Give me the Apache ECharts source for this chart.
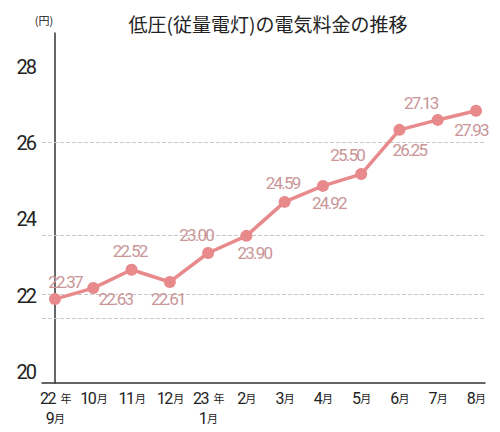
<!DOCTYPE html>
<html><head><meta charset="utf-8">
<script src="https://cdn.jsdelivr.net/npm/echarts@6/dist/echarts.min.js"></script>
<style>
html,body{margin:0;padding:0;background:#fff}
#c{width:500px;height:432px}
#c text[style*="lblval"]{letter-spacing:-1.8px}
#c text[style*="lblaxy"]{letter-spacing:-2px}
#c text[style*="lblaxx"]{letter-spacing:-1.5px}
</style>
</head><body><div id="c"></div>
<script>
// ---- data ----
const categories = ['22年\n9月','10月','11月','12月','23年\n1月','2月','3月','4月','5月','6月','7月','8月'];
// values as plotted against the y axis (read from point positions)
const plotValues = [21.91, 22.20, 22.68, 22.36, 23.12, 23.57, 24.46, 24.88, 25.19, 26.35, 26.61, 26.85];
// data labels printed in the picture
const labelTexts = ['22.37','22.63','22.52','22.61','23.00','23.90','24.59','24.92','25.50','26.25','27.13','27.93'];
const yTickLabels = [20, 22, 24, 26, 28];
const gridLineValues = [26.03, 23.59, 22.05, 21.42];

// ---- layout/style ----
const labelOffsets = [[10,-17],[22,11],[-2,-19],[-2,17],[-12,-18],[8,17],[-2,-19],[6,17],[-14,-19],[10,20],[-17,-17],[-5,19]];
const fVal = "Roboto, lblval, sans-serif";
const fAxY = "Roboto, lblaxy, sans-serif";
const fAxX = "Roboto, lblaxx, sans-serif";
const cjk = "'Noto Sans CJK JP', sans-serif";
const lineColor = '#e8898b';

const chart = echarts.init(document.getElementById('c'), null, {renderer:'svg'});
chart.setOption({
  animation: false,
  backgroundColor: '#fff',
  title: {
    text: '低圧(従量電灯)の電気料金の推移',
    left: 263, top: 9, textAlign: 'center',
    textStyle: {fontFamily: cjk, fontSize: 19, fontWeight: 'normal', color: '#222'}
  },
  grid: [
    {left: 42, right: 15, top: 33, bottom: 49},
    {left: 55, right: 24, top: 33, bottom: 49}
  ],
  xAxis: [
    {type: 'value', gridIndex: 0, min: -0.34, max: 11.235,
     axisLine: {show: true, lineStyle: {color: '#333', width: 1.5}},
     axisTick: {show: false}, axisLabel: {show: false}, splitLine: {show: false}},
    {type: 'category', gridIndex: 1, data: categories, boundaryGap: false,
     axisLine: {show: false}, axisTick: {show: false}, splitLine: {show: false},
     axisLabel: {
       margin: 5, interval: 0,
       formatter: function (v) {
         return v.split('\n').map(function (line) {
           return line.replace(/(\d+)/g, '{n|$1}').replace(/年/g, '{y|年}').replace(/月/g, '{s|月}');
         }).join('\n');
       },
       rich: {
         n: {fontFamily: fAxX, fontSize: 16, color: '#222', lineHeight: 20},
         y: {fontFamily: cjk, fontSize: 11, color: '#222', lineHeight: 20, padding: [0,0,0,4]},
         s: {fontFamily: cjk, fontSize: 11, color: '#222', lineHeight: 20}
       }
     }}
  ],
  yAxis: [
    {type: 'value', gridIndex: 0, min: 19.71, max: 28.89,
     name: '(円)', nameLocation: 'end', nameGap: 8,
     nameTextStyle: {fontFamily: cjk, fontSize: 11, color: '#222', align: 'center', padding: [0, 22, 0, 0]},
     axisLine: {show: true, lineStyle: {color: '#333', width: 1.5}},
     axisTick: {show: false}, splitLine: {show: false},
     axisLabel: {customValues: yTickLabels, margin: 7, fontFamily: fAxY, fontSize: 20, color: '#222'}},
    {type: 'value', gridIndex: 1, min: 19.71, max: 28.89, show: false}
  ],
  series: [{
    type: 'line', xAxisIndex: 0, yAxisIndex: 0,
    data: plotValues.map(function (v, i) {
      return {value: [i, v], label: {offset: labelOffsets[i]}};
    }),
    symbol: 'circle', symbolSize: 12,
    itemStyle: {color: lineColor},
    lineStyle: {color: lineColor, width: 3.5},
    label: {
      show: true, position: 'inside',
      fontFamily: fVal, fontSize: 17, fontWeight: 'normal', color: '#c99597',
      formatter: function (p) { return labelTexts[p.dataIndex]; }
    },
    markLine: {
      silent: true, symbol: 'none', z: 1,
      label: {show: false},
      lineStyle: {type: 'dashed', color: '#c8c8c8', width: 1},
      data: gridLineValues.map(function (v) { return {yAxis: v}; })
    },
    z: 3
  }]
});
</script></body></html>
